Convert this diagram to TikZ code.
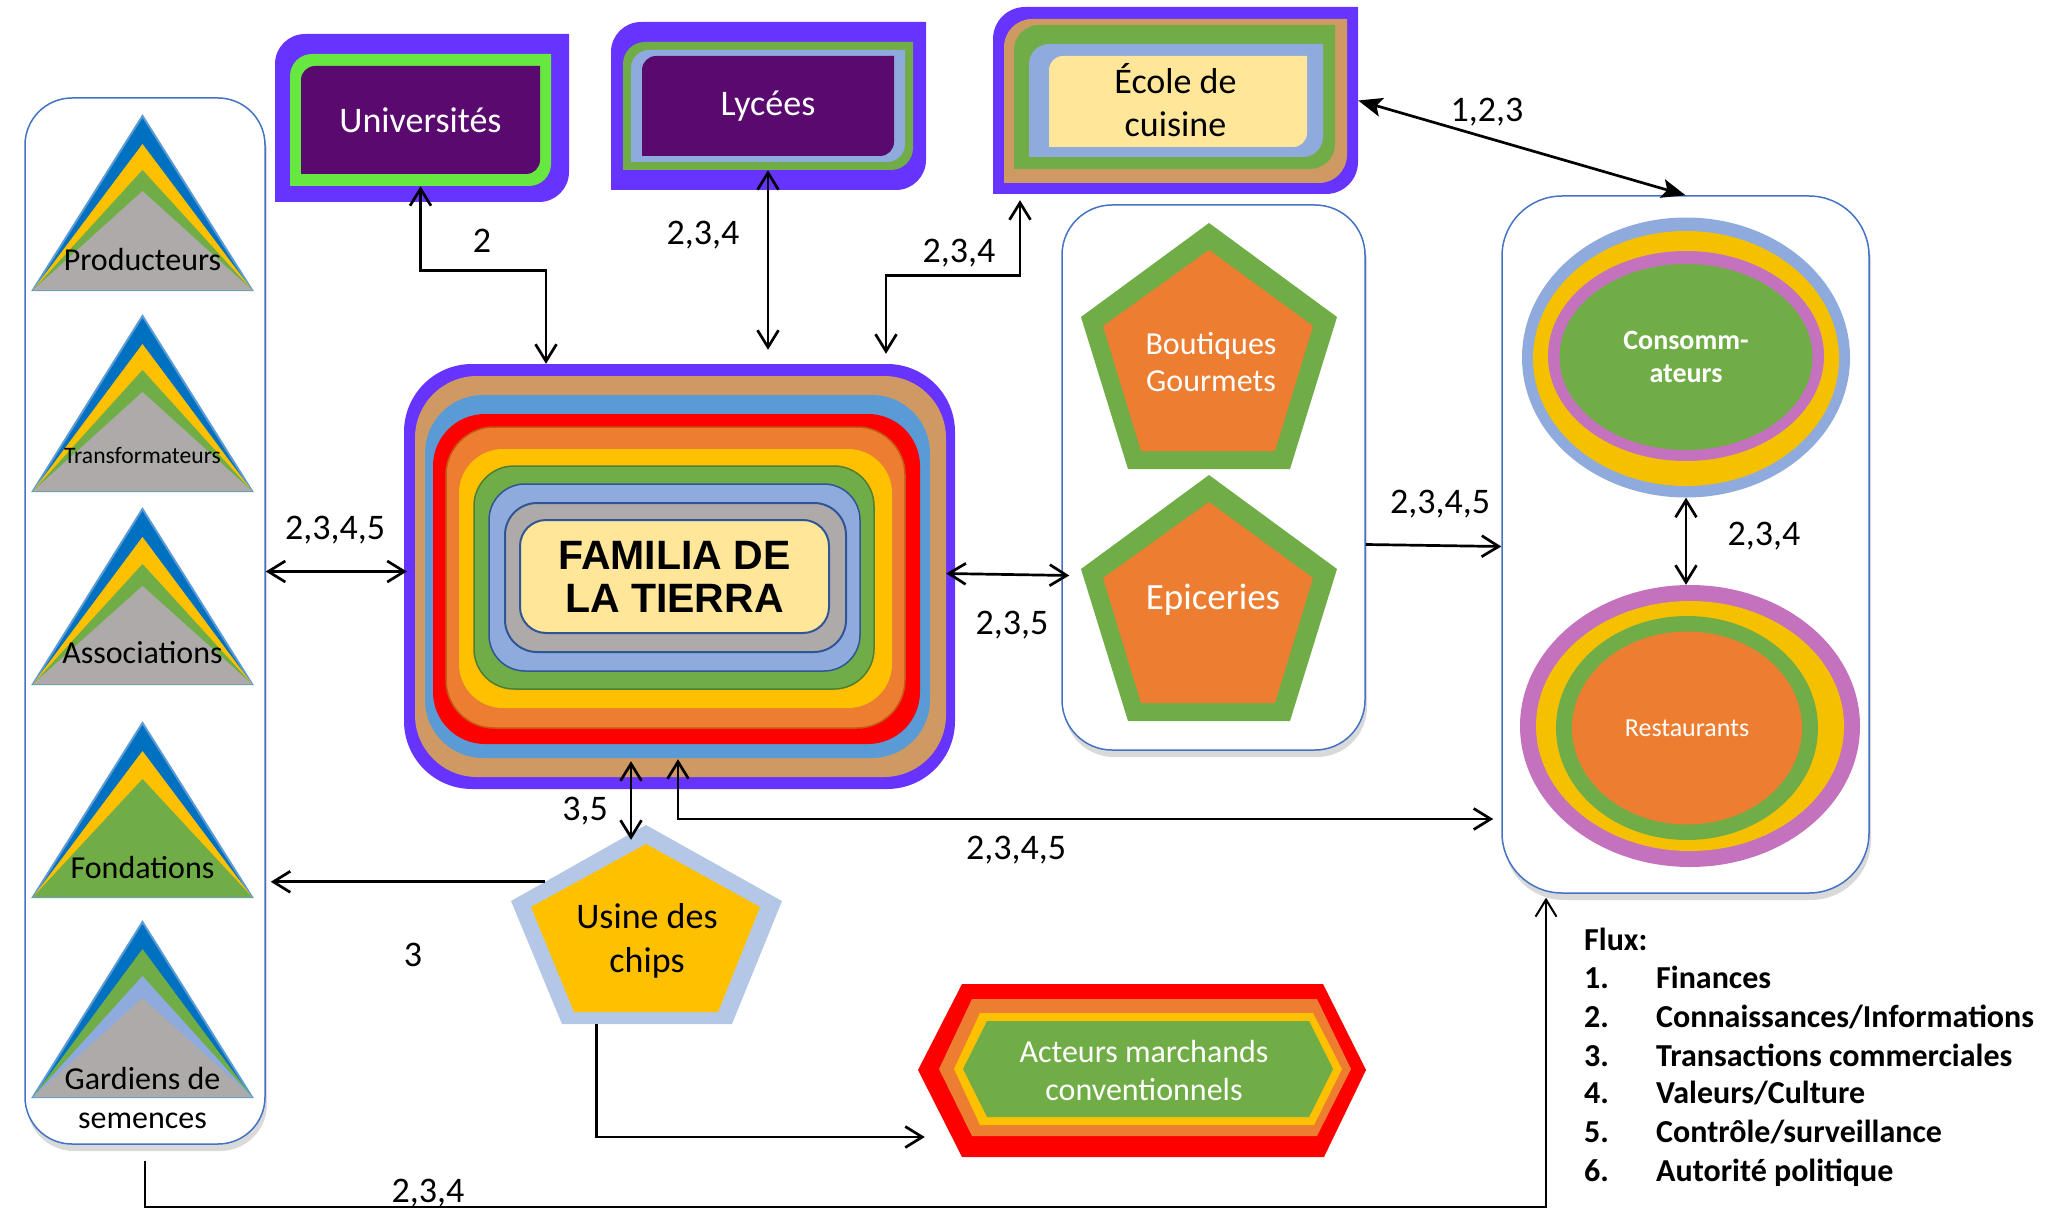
\documentclass[tikz,border=0pt]{standalone}
\usepackage{fontspec}
\setmainfont{Carlito}
\newfontfamily\arialfont{Liberation Sans}
\usepackage{tikz}
\usepackage{xcolor}
\usetikzlibrary{arrows.meta, shapes.geometric, shadows, calc}
\definecolor{customcolor1}{HTML}{6633FF}
\definecolor{customcolor2}{HTML}{5A0A6E}
\definecolor{customcolor3}{HTML}{66E840}
\definecolor{customcolor4}{HTML}{70AD47}
\definecolor{customcolor5}{HTML}{8FAADC}
\definecolor{customcolor6}{HTML}{CF9963}
\definecolor{customcolor7}{HTML}{FFE699}
\definecolor{customcolor8}{HTML}{5B9BD5}
\definecolor{customcolor9}{HTML}{ED7D31}
\definecolor{customcolor10}{HTML}{FFC000}
\definecolor{customcolor11}{HTML}{AEAAAA}
\definecolor{customcolor12}{HTML}{C472BE}
\definecolor{customcolor13}{HTML}{F4C000}
\definecolor{customcolor14}{HTML}{0070C0}
\definecolor{customcolor15}{HTML}{B4C7E7}
\definecolor{customcolor16}{HTML}{4472C4}
\definecolor{customcolor17}{HTML}{2F5597}
\definecolor{customcolor18}{HTML}{C55A11}
\definecolor{customcolor19}{HTML}{507E32}

% box with two rounded corners (top left, bottom right)
\newcommand{\cornerfill}[6]{\fill [#1] (#2pt, -#5pt) -- (#2pt, -#3pt-#6pt) arc [start angle = 180, end angle = 90, radius = #6pt] -- (#4pt, -#3pt) -- (#4pt, -#5pt+#6pt) arc [start angle = 0, end angle = -90, radius = #6pt] -- cycle;}
% one layer of a triangle
\newcommand{\tripile}[3]{\fill [#1] (33pt, -#3pt) -- (142.5pt, -#2pt) -- (252pt, -#3pt) -- cycle;}

\tikzset{
    container/.style = {draw = customcolor16, line width = 1.5pt, fill = white, inner sep = 0pt, drop shadow = {shadow xshift = 2pt, shadow yshift = -7pt, opacity = 0.3}},
    famlayer/.style n args = {4}{fill = #1, minimum width = #2, minimum height = #3, rounded corners = #4, inner sep = 0pt},
    ring/.style n args = {3}{ellipse, fill = #1, minimum width = #2, minimum height = #3, inner sep = 0pt},
    label36/.style = {font = \fontsize{36pt}{43pt}\selectfont, align = center},
    label32/.style = {font = \fontsize{32pt}{38pt}\selectfont, align = center},
    flow/.style = {font = \fontsize{36pt}{43pt}\selectfont, anchor = base, inner sep = 0pt},
    legend/.style = {font = \bfseries\fontsize{32pt}{38pt}\selectfont, anchor = base west, inner sep = 0pt},
    link/.style = {> = {Straight Barb[length = 17pt, width = 21pt]}, line width = 2.7pt},
    biglink/.style = {<->, > = {Stealth[length = 24pt, width = 19pt, inset = 5pt]}, line width = 2.7pt}
}

\begin{document}
\begin{tikzpicture}
        \useasboundingbox (0pt, 0pt) rectangle (2050pt, -1217pt);

        % Containers
        \node [container, rounded corners = 47pt, minimum width = 240pt, minimum height = 1046pt] (gauche) at (145pt, -621pt) {};
        \node [container, rounded corners = 50pt, minimum width = 303pt, minimum height = 545pt] (magasins) at (1213.5pt, -477.5pt) {};
        \node [container, rounded corners = 60pt, minimum width = 367pt, minimum height = 697pt] (clients) at (1685.5pt, -544.5pt) {};

        % Triangles
        \tripile{customcolor14, draw = customcolor8, line width = 2pt}{116}{290}
        \tripile{customcolor10}{144}{290}
        \tripile{customcolor4}{170}{290}
        \tripile{customcolor11}{191}{290}
        \tripile{customcolor14, draw = customcolor8, line width = 2pt}{316}{491}
        \tripile{customcolor10}{344}{491}
        \tripile{customcolor4}{370}{491}
        \tripile{customcolor11}{392}{491}
        \tripile{customcolor14, draw = customcolor8, line width = 2pt}{509}{684}
        \tripile{customcolor10}{537}{684}
        \tripile{customcolor4}{564}{684}
        \tripile{customcolor11}{586}{684}
        \tripile{customcolor14, draw = customcolor8, line width = 2pt}{723}{897}
        \tripile{customcolor10}{751}{897}
        \tripile{customcolor4}{779}{897}
        \tripile{customcolor14, draw = customcolor8, line width = 2pt}{922}{1097}
        \tripile{customcolor4}{949}{1097}
        \tripile{customcolor5}{976}{1097}
        \tripile{customcolor11}{998}{1097}
        \node [label32] (producteurs) at (142.5pt, -260pt) {Producteurs};
        \node [font = \fontsize{23.6pt}{28pt}\selectfont] (transformateurs) at (142.5pt, -455pt) {Transformateurs};
        \node [label32] (associations) at (142.5pt, -653pt) {Associations};
        \node [label32] (fondations) at (142.5pt, -867pt) {Fondations};
        \node [align = center, font = \fontsize{32pt}{39pt}\selectfont] (gardiens) at (142.5pt, -1097.5pt) {Gardiens de\\semences};

        % Schools
        \cornerfill{customcolor1}{275}{34}{569}{202}{30}
        \cornerfill{customcolor3}{290}{54}{551}{186}{22}
        \cornerfill{customcolor2}{301}{66}{540}{174}{14}
        \node [label36, text = white, minimum width = 261pt, minimum height = 132pt] (univ) at (420.5pt, -120pt) {Universités};

        \cornerfill{customcolor1}{611}{22}{926}{190}{30}
        \cornerfill{customcolor4}{623}{42}{913}{170}{22}
        \cornerfill{customcolor5}{631}{50}{905}{162}{18}
        \cornerfill{customcolor2}{642}{56}{894}{156}{14}
        \node [label36, text = white, minimum width = 290pt, minimum height = 128pt] (lycee) at (768pt, -106pt) {Lycées};

        \cornerfill{customcolor1}{993}{7}{1358}{194}{32}
        \cornerfill{customcolor6}{1004}{19}{1347}{183}{28}
        \cornerfill{customcolor4}{1014}{25}{1335}{169}{25}
        \cornerfill{customcolor5}{1029}{44}{1323}{157}{20}
        \cornerfill{customcolor7}{1049}{56}{1307}{147}{14}
        \node [label36, minimum width = 365pt, minimum height = 187pt] (ecole) at (1175.5pt, -100.5pt) {École de\\cuisine};

        % Familia de la Tierra
        \node [famlayer = {customcolor1}{551pt}{425pt}{68pt}] (famille) at (679.5pt, -576.5pt) {};
        \node [famlayer = {customcolor6}{531pt}{401pt}{62pt}] (famille-2) at (680.5pt, -576.5pt) {};
        \node [famlayer = {customcolor8}{505pt}{363pt}{58pt}] (famille-3) at (677.5pt, -576.5pt) {};
        \node [famlayer = {red}{487pt}{330pt}{52pt}] (famille-4) at (676.5pt, -579pt) {};
        \node [famlayer = {customcolor9}{459pt}{301pt}{48pt}, draw = customcolor18, line width = 1.5pt] (famille-5) at (675.5pt, -577.5pt) {};
        \node [famlayer = {customcolor10}{433pt}{259pt}{44pt}] (famille-6) at (675.5pt, -578.5pt) {};
        \node [famlayer = {customcolor4}{400pt}{223pt}{40pt}, draw = customcolor19, line width = 1.5pt] (famille-7) at (674pt, -577.5pt) {};
        \node [famlayer = {customcolor5}{371pt}{187pt}{36pt}, draw = customcolor17, line width = 1.5pt] (famille-8) at (674.5pt, -577.5pt) {};
        \node [famlayer = {customcolor11}{341pt}{149pt}{32pt}, draw = customcolor17, line width = 2pt] (famille-9) at (675.5pt, -577.5pt) {};
        \node [famlayer = {customcolor7}{309pt}{113pt}{26pt}, draw = customcolor17, line width = 2pt, font = \arialfont\bfseries\fontsize{41pt}{43pt}\selectfont, align = center] (famille-10) at (674.5pt, -576.5pt) {FAMILIA DE\\LA TIERRA};

        % Shops
        \fill [customcolor4] (1209pt, -223pt) -- (1337pt, -317pt) -- (1290pt, -469pt) -- (1128pt, -469pt) -- (1081pt, -317pt) -- cycle;
        \fill [customcolor9] (1209pt, -250pt) -- (1313pt, -326pt) -- (1275pt, -451pt) -- (1141pt, -451pt) -- (1103pt, -326pt) -- cycle;
        \node [text = white, align = center, font = \fontsize{32pt}{37pt}\selectfont] (boutiques) at (1211pt, -362.5pt) {Boutiques\\Gourmets};
        \fill [customcolor4] (1209pt, -475pt) -- (1337pt, -569pt) -- (1290pt, -721pt) -- (1128pt, -721pt) -- (1081pt, -569pt) -- cycle;
        \fill [customcolor9] (1209pt, -502pt) -- (1313pt, -578pt) -- (1275pt, -703pt) -- (1141pt, -703pt) -- (1103pt, -578pt) -- cycle;
        \node [text = white, font = \fontsize{37pt}{43pt}\selectfont] (epiceries) at (1213pt, -600pt) {Epiceries};

        % Consumers and restaurants
        \node [ring = {customcolor5}{328pt}{280pt}] (conso-1) at (1686pt, -357.5pt) {};
        \node [ring = {customcolor13}{306pt}{255pt}] (conso-2) at (1686pt, -358.5pt) {};
        \node [ring = {customcolor12}{276pt}{210pt}] (conso-3) at (1686pt, -356pt) {};
        \node [ring = {customcolor4}{253pt}{186pt}, text = white, align = center, font = \bfseries\fontsize{28pt}{33pt}\selectfont] (conso-4) at (1686pt, -357pt) {Consomm-\\ateurs};
        \node [ring = {customcolor12}{340pt}{282pt}] (resto-1) at (1690pt, -726pt) {};
        \node [ring = {customcolor13}{308pt}{250pt}] (resto-2) at (1690pt, -726pt) {};
        \node [ring = {customcolor4}{262pt}{224pt}] (resto-3) at (1687pt, -728pt) {};
        \node [ring = {customcolor9}{230pt}{193pt}, text = white, font = \fontsize{26pt}{31pt}\selectfont] (resto-4) at (1687pt, -728pt) {Restaurants};

        % Chips factory
        \fill [customcolor15] (646pt, -825pt) -- (782pt, -901pt) -- (732pt, -1024pt) -- (562pt, -1024pt) -- (511pt, -901pt) -- cycle;
        \fill [customcolor10] (646pt, -844pt) -- (760pt, -907pt) -- (718pt, -1012pt) -- (574pt, -1012pt) -- (531pt, -907pt) -- cycle;
        \node [minimum width = 271pt, minimum height = 199pt, inner sep = 0pt] (usine) at (646.5pt, -924.5pt) {};
        \node [align = center, font = \fontsize{36pt}{44pt}\selectfont] (usine-texte) at (647pt, -941pt) {Usine des\\chips};

        % Conventional market actors
        \fill [red] (918pt, -1070pt) -- (962pt, -984pt) -- (1323pt, -984pt) -- (1366pt, -1070pt) -- (1324pt, -1157pt) -- (962pt, -1157pt) -- cycle;
        \fill [customcolor9] (939pt, -1069pt) -- (972pt, -999pt) -- (1317pt, -999pt) -- (1351pt, -1069pt) -- (1317pt, -1136pt) -- (972pt, -1136pt) -- cycle;
        \fill [customcolor10] (954pt, -1069pt) -- (980pt, -1013pt) -- (1313pt, -1013pt) -- (1342pt, -1069pt) -- (1314pt, -1125pt) -- (980pt, -1125pt) -- cycle;
        \fill [customcolor4] (963pt, -1069pt) -- (987pt, -1021pt) -- (1309pt, -1021pt) -- (1333pt, -1069pt) -- (1309pt, -1117pt) -- (987pt, -1117pt) -- cycle;
        \node [label32, text = white, minimum width = 448pt, minimum height = 173pt] (acteurs) at (1144pt, -1070.5pt) {Acteurs marchands\\conventionnels};

        % Draw the links
        \draw [link, <->] (univ.south) -- ++(0pt, -84pt) -| ($(famille.north) + (-133.5pt, 0pt)$);
        \draw [link, <->] (lycee.south) -- ($(lycee.south |- famille.north) + (0pt, 14pt)$);
        \draw [link, <->] ($(famille.north) + (206.5pt, 10pt)$) -- ++(0pt, 78pt) -| ($(ecole.south) + (-155.5pt, -6pt)$);
        \draw [biglink] (ecole.east) -- (clients.north);
        \draw [link, <->] ($(famille.west -| gauche.east) + (0pt, 5pt)$) -- ($(famille.west) + (3pt, 5pt)$);
        \draw [link, <->] ($(famille.east) + (-9pt, 3pt)$) -- ($(famille.east -| magasins.west) + (8pt, 1pt)$);
        \draw [link, ->] ($(magasins.east) + (0pt, -67pt)$) -- ($(magasins.east -| clients.west) + (0pt, -69pt)$);
        \draw [link, <->] (conso-1.south) -- (conso-1.south |- resto-1.north);
        \draw [link, <->] ($(famille.south) + (-48.5pt, 28pt)$) -- ($(usine.north) + (-15.5pt, -15pt)$);
        \draw [link, <->] ($(famille.south) + (-1.5pt, 30pt)$) |- ($(clients.west) + (-8pt, -274.5pt)$);
        \draw [link, ->] ($(usine.north) + (-102pt, -57pt)$) -- ($(usine.north -| gauche.east) + (5pt, -57pt)$);
        \draw [link, ->] ($(usine.south) + (-50pt, 0pt)$) |- ($(acteurs.west) + (5pt, -66.5pt)$);
        \draw [link, ->, line width = 2pt] ($(gauche.south) + (0pt, -16pt)$) -- ++(0pt, -46pt) -| ($(clients.south) + (-139.5pt, -4pt)$);

        % Flow labels
        \node [flow] (l-univ) at (482pt, -252.5pt) {2};
        \node [flow] (l-lycee) at (703pt, -244.5pt) {2,3,4};
        \node [flow] (l-ecole) at (959pt, -262.5pt) {2,3,4};
        \node [flow] (l-clients) at (1487pt, -121.5pt) {1,2,3};
        \node [flow] (l-gauche) at (335pt, -539.5pt) {2,3,4,5};
        \node [flow] (l-magasins) at (1012pt, -634.5pt) {2,3,5};
        \node [flow] (l-vente) at (1440pt, -513.5pt) {2,3,4,5};
        \node [flow] (l-resto) at (1764pt, -545.5pt) {2,3,4};
        \node [flow] (l-usine) at (585pt, -820.5pt) {3,5};
        \node [flow] (l-bas) at (1016pt, -859.5pt) {2,3,4,5};
        \node [flow] (l-fond) at (413pt, -966.5pt) {3};
        \node [flow] (l-semences) at (428pt, -1202.5pt) {2,3,4};

        % Legend
        \node [legend] (flux) at (1584pt, -950pt) {Flux:};
        \node [legend] (n1) at (1584pt, -988pt) {1.};
        \node [legend] (t1) at (1656pt, -988pt) {Finances};
        \node [legend] (n2) at (1584pt, -1027pt) {2.};
        \node [legend] (t2) at (1656pt, -1027pt) {Connaissances/Informations};
        \node [legend] (n3) at (1584pt, -1066pt) {3.};
        \node [legend] (t3) at (1656pt, -1066pt) {Transactions commerciales};
        \node [legend] (n4) at (1584pt, -1103pt) {4.};
        \node [legend] (t4) at (1656pt, -1103pt) {Valeurs/Culture};
        \node [legend] (n5) at (1584pt, -1142pt) {5.};
        \node [legend] (t5) at (1656pt, -1142pt) {Contrôle/surveillance};
        \node [legend] (n6) at (1584pt, -1181pt) {6.};
        \node [legend] (t6) at (1656pt, -1181pt) {Autorité politique};

\end{tikzpicture}
\end{document}
